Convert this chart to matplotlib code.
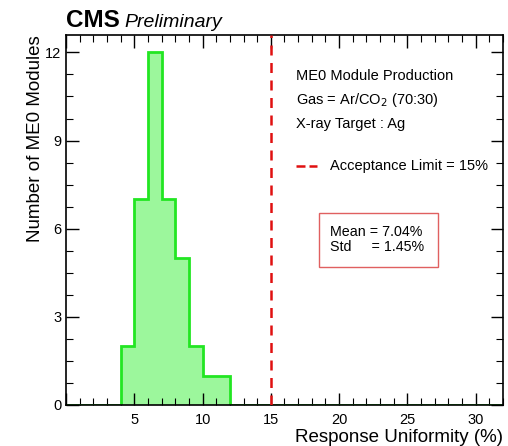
import numpy as np
import matplotlib
matplotlib.use("Agg")
from matplotlib import pyplot as plt
from matplotlib.patches import Rectangle
from matplotlib.ticker import MultipleLocator, FuncFormatter

# histogram of response uniformity (1% bins)
bin_edges = [4, 5, 6, 7, 8, 9, 10, 11, 12]
counts = [2, 7, 12, 7, 5, 2, 1, 1]
acceptance_limit = 15
mean_val = 7.04
std_val = 1.45

plt.rcParams['font.family'] = ['Liberation Sans', 'DejaVu Sans']

fig = plt.figure(figsize=(5.08, 4.46), dpi=100)
ax = fig.add_axes([0.130, 0.092, 0.860, 0.830])

# full-range step outline like ROOT (zero outside filled bins)
edges = np.concatenate(([0], bin_edges, [32]))
vals = np.concatenate(([0], counts, [0]))
ax.stairs(counts, bin_edges, fill=True, color='#9cf79c', zorder=1)
ax.stairs(vals, edges, color='#22e622', lw=2, zorder=2)

ax.axvline(acceptance_limit, color='#e01010', ls=(0, (4, 3)), lw=1.8, zorder=3)

ax.set_xlim(0, 32)
ax.set_ylim(0, 12.6)
ax.xaxis.set_major_locator(MultipleLocator(5))
ax.xaxis.set_minor_locator(MultipleLocator(1))
ax.xaxis.set_major_formatter(FuncFormatter(lambda v, p: '' if v == 0 else '%d' % v))
ax.yaxis.set_major_locator(MultipleLocator(3))
ax.yaxis.set_minor_locator(MultipleLocator(0.75))
ax.tick_params(which='both', direction='in', top=True, right=True, labelsize=10.5)
ax.tick_params(which='major', length=9, width=1)
ax.tick_params(which='minor', length=5, width=0.8)
ax.tick_params(axis='x', pad=6)
for s in ax.spines.values():
    s.set_linewidth(1.2)

ax.set_xlabel('Response Uniformity (%)', fontsize=13.5, loc='right', labelpad=1)
ax.set_ylabel('Number of ME0 Modules', fontsize=13.5, loc='top', labelpad=1)

fig.text(0.130, 0.939, 'CMS', fontsize=17.5, fontweight='bold', va='baseline')
fig.text(0.244, 0.939, 'Preliminary', fontsize=14, style='italic', va='baseline')

tx = 0.527
ax.text(tx, 0.889, 'ME0 Module Production', transform=ax.transAxes, fontsize=10.5, va='center')
ax.text(tx, 0.824, r'Gas = Ar/CO$_2$ (70:30)', transform=ax.transAxes, fontsize=10.5, va='center')
ax.text(tx, 0.759, 'X-ray Target : Ag', transform=ax.transAxes, fontsize=10.5, va='center')
ax.plot([0.527, 0.574], [0.646, 0.646], transform=ax.transAxes, color='#e01010',
        ls=(0, (3.6, 1.6)), lw=1.8)
ax.text(0.605, 0.646, 'Acceptance Limit = 15%', transform=ax.transAxes, fontsize=10.5, va='center')

ax.add_patch(Rectangle((0.578, 0.373), 0.273, 0.146, transform=ax.transAxes, fill=False,
                       ec='#e06060', lw=1))
ax.text(0.605, 0.466, 'Mean = %.2f%%' % mean_val, transform=ax.transAxes, fontsize=10.3, va='center')
ax.text(0.605, 0.428, 'Std     = %.2f%%' % std_val, transform=ax.transAxes, fontsize=10.3, va='center')

fig.savefig('out.png', dpi=100)
